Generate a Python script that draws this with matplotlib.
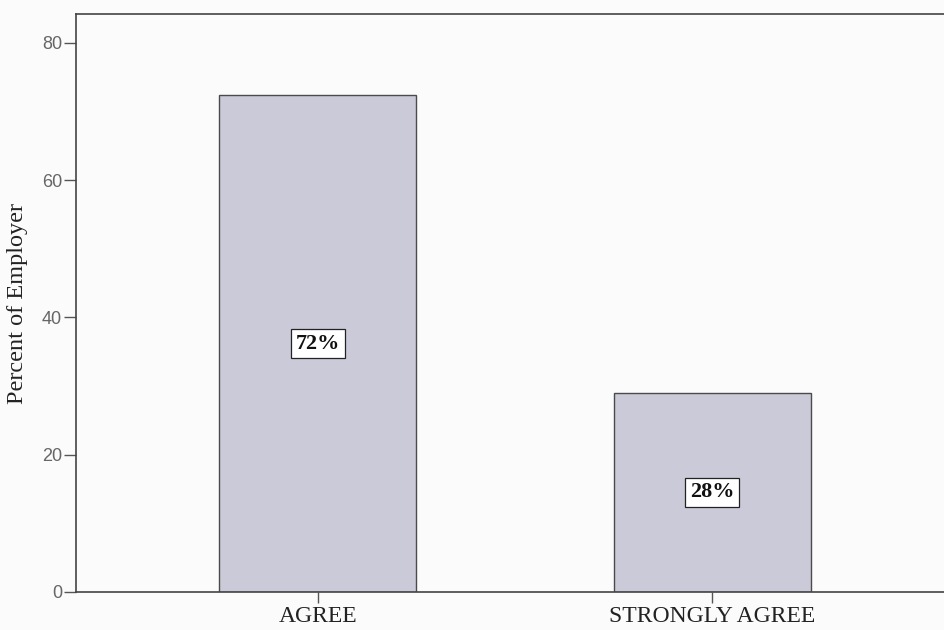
import matplotlib
matplotlib.use("Agg")
import matplotlib.pyplot as plt

categories = ["AGREE", "STRONGLY AGREE"]
values = [72.4, 29.0]
bar_labels = ["72%", "28%"]
yticks = [0, 20, 40, 60, 80]

fig = plt.figure(figsize=(9.45, 6.3), dpi=100)
fig.patch.set_facecolor("#fbfbfb")
ax = fig.add_axes([76/945, 38/630, 878/945, 578/630])
ax.set_facecolor("#fbfbfb")

x = list(range(len(categories)))
ax.bar(x, values, width=0.5, color="#cbcad9", edgecolor="#4a4a4a", linewidth=1.0, zorder=2)

for xi, v, lab in zip(x, values, bar_labels):
    ax.text(xi, v / 2, lab, ha="center", va="center", fontsize=16, fontweight="bold",
            family="Liberation Serif", color="#111111", zorder=3,
            bbox=dict(boxstyle="square,pad=0.2", facecolor="white", edgecolor="#222222", linewidth=0.9))

ax.set_xlim(-0.614, 1.614)
ax.set_ylim(0, 84.2)
ax.set_yticks(yticks)
ax.set_yticklabels([str(t) for t in yticks], family="Liberation Sans", fontsize=13, color="#666666")
ax.set_xticks(x)
ax.set_xticklabels(categories, family="Liberation Serif", fontsize=17, color="#222222")
ax.tick_params(axis="y", length=9, width=1, color="#555555", pad=1)
ax.tick_params(axis="x", length=8, width=1, color="#555555", pad=2)

for side in ["left", "bottom", "top"]:
    ax.spines[side].set_color("#444444")
    ax.spines[side].set_linewidth(1.2)
ax.spines["right"].set_visible(False)

ax.set_ylabel("Percent of Employer", family="Liberation Serif", fontsize=17.5, color="#222222")
ax.yaxis.set_label_coords(-0.055, 0.5)

fig.savefig("out.png", dpi=100, facecolor=fig.get_facecolor())
